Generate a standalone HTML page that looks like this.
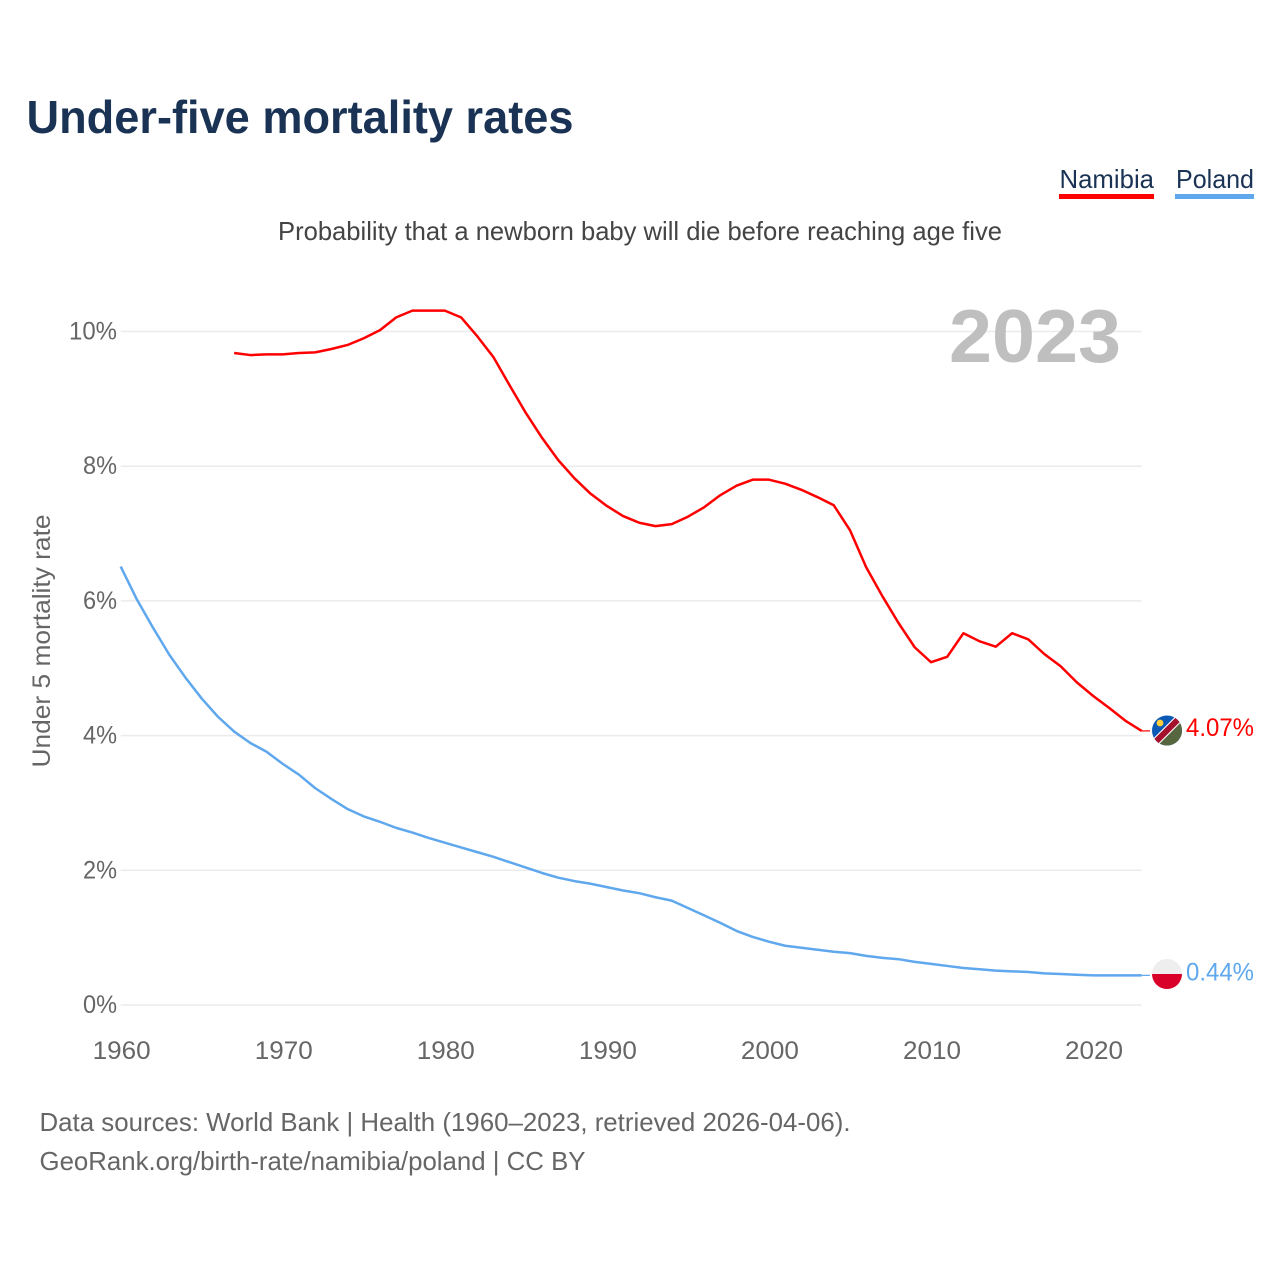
<!DOCTYPE html>
<html lang="en">
<head>
<meta charset="utf-8">
<title>Under-five mortality rates</title>
<style>
html,body{margin:0;padding:0;background:#fff;width:1280px;height:1280px;overflow:hidden}
svg{display:block}
text{font-family:"Liberation Sans",Arial,sans-serif}
</style>
</head>
<body>
<svg id="chart" xmlns="http://www.w3.org/2000/svg" width="1280" height="1280" viewBox="0 0 1280 1280">
  <defs>
    <clipPath id="nam-clip"><circle cx="1167" cy="730.5" r="15"/></clipPath>
    <clipPath id="pol-clip"><circle cx="1167" cy="974" r="15"/></clipPath>
  </defs>
  <rect width="1280" height="1280" fill="#fff"/>
  <text x="26.5" y="133" font-size="46" font-weight="700" fill="#1a3355" textLength="547" lengthAdjust="spacingAndGlyphs">Under-five mortality rates</text>

  <g>
    <text x="1059.5" y="188" font-size="26" fill="#1a3355" textLength="94.5" lengthAdjust="spacingAndGlyphs">Namibia</text>
    <rect x="1059" y="194" width="95" height="5" fill="#ff0000"/>
  </g>
  <g>
    <text x="1176" y="188" font-size="26" fill="#1a3355" textLength="78" lengthAdjust="spacingAndGlyphs">Poland</text>
    <rect x="1175" y="194" width="79" height="5" fill="#5fa8ee"/>
  </g>

  <text x="278" y="240" font-size="26" fill="#444" textLength="724" lengthAdjust="spacingAndGlyphs">Probability that a newborn baby will die before reaching age five</text>

  <g id="grid"></g>
  <text x="949" y="362" font-size="75" font-weight="700" fill="#bfbfbf" textLength="172" lengthAdjust="spacingAndGlyphs">2023</text>
  <g id="yticks"></g>
  <g id="xticks"></g>
  <text transform="translate(50,641) rotate(-90)" text-anchor="middle" font-size="25" fill="#666" textLength="253" lengthAdjust="spacingAndGlyphs">Under 5 mortality rate</text>

  <g id="series"></g>

  <g clip-path="url(#nam-clip)">
    <rect x="1150" y="714" width="34" height="34" fill="#0a5ab5"/>
    <polygon points="1150,747.5 1184,713.5 1184,748 1150,748" fill="#56663f"/>
    <polygon points="1150,741.7 1184,707.7 1184,719.3 1150,753.3" fill="#ffffff"/>
    <polygon points="1150,743.3 1184,709.3 1184,717.7 1150,751.7" fill="#a5102d"/>
    <circle cx="1160" cy="723" r="3.4" fill="#ffce3a"/>
  </g>
  <g clip-path="url(#pol-clip)">
    <rect x="1150" y="958" width="34" height="16" fill="#eeeeee"/>
    <rect x="1150" y="974" width="34" height="16" fill="#d9002a"/>
  </g>

  <text x="39.5" y="1131" font-size="26" fill="#666" textLength="811" lengthAdjust="spacingAndGlyphs">Data sources: World Bank | Health (1960–2023, retrieved 2026-04-06).</text>
  <text x="39.5" y="1170" font-size="26" fill="#666" textLength="546" lengthAdjust="spacingAndGlyphs">GeoRank.org/birth-rate/namibia/poland | CC BY</text>
</svg>
<script>
const xTickYears = [1960, 1970, 1980, 1990, 2000, 2010, 2020];
const yTickValues = [0, 2, 4, 6, 8, 10];
const namibiaStartYear = 1967;
const namibiaValues = [9.68,9.65,9.66,9.66,9.68,9.69,9.74,9.80,9.90,10.02,10.21,10.31,10.31,10.31,10.21,9.93,9.62,9.20,8.79,8.42,8.09,7.82,7.59,7.41,7.26,7.16,7.11,7.14,7.25,7.39,7.57,7.71,7.80,7.80,7.74,7.65,7.54,7.42,7.05,6.50,6.07,5.67,5.31,5.09,5.17,5.52,5.40,5.32,5.52,5.43,5.21,5.03,4.79,4.59,4.41,4.22,4.07];
const polandStartYear = 1960;
const polandValues = [6.51,6.02,5.60,5.20,4.86,4.55,4.28,4.06,3.89,3.76,3.58,3.42,3.22,3.06,2.91,2.80,2.72,2.63,2.56,2.48,2.41,2.34,2.27,2.20,2.12,2.04,1.96,1.89,1.84,1.80,1.75,1.70,1.66,1.60,1.55,1.44,1.33,1.22,1.10,1.01,0.94,0.88,0.85,0.82,0.79,0.77,0.73,0.70,0.68,0.64,0.61,0.58,0.55,0.53,0.51,0.50,0.49,0.47,0.46,0.45,0.44,0.44,0.44,0.44];
const namibiaLabel = "4.07%";
const polandLabel = "0.44%";

const NS = "http://www.w3.org/2000/svg";
const xScale = function (year) { return 120.7 + (year - 1960) * 16.206; };
const yScale = function (value) { return 1005 - value * 67.35; };
const X_END = xScale(2023);

function make(tag, attrs, parent, content) {
  const el = document.createElementNS(NS, tag);
  for (const k in attrs) el.setAttribute(k, attrs[k]);
  if (content !== undefined) el.textContent = content;
  parent.appendChild(el);
  return el;
}

const gridG = document.getElementById("grid");
const yG = document.getElementById("yticks");
yTickValues.forEach(function (v) {
  const line = make("line", { x1: xScale(1960), x2: X_END, y1: yScale(v), y2: yScale(v), stroke: "#ebebeb", "stroke-width": 1.5 }, gridG);
  
  
  const label = make("text", { x: 117, y: yScale(v) + 8, "text-anchor": "end", "font-size": 25, fill: "#666", textLength: v >= 10 ? 48 : 34, lengthAdjust: "spacingAndGlyphs" }, yG, v + "%");
  
  
});

const xG = document.getElementById("xticks");
xTickYears.forEach(function (y) {
  const label = make("text", { x: xScale(y) + 1, y: 1059, "text-anchor": "middle", "font-size": 25, fill: "#666", textLength: 58, lengthAdjust: "spacingAndGlyphs" }, xG, String(y));
  
  
});

const seriesG = document.getElementById("series");
function drawSeries(values, startYear, color, labelText, labelWidth) {
  const pts = values.map(function (v, i) { return xScale(startYear + i).toFixed(2) + "," + yScale(v).toFixed(2); });
  const path = make("polyline", { points: pts.join(" "), fill: "none", stroke: color, "stroke-width": 2.5, "stroke-linejoin": "round" }, seriesG);
  
  
  const last = values[values.length - 1];
  const lineEnd = make("line", { x1: X_END, x2: 1150, y1: yScale(last), y2: yScale(last), stroke: color, "stroke-width": 1.2 }, seriesG);
  
  
  const endLabel = make("text", { x: 1186, y: yScale(last) + 5, "font-size": 25, fill: color, textLength: labelWidth, lengthAdjust: "spacingAndGlyphs" }, seriesG, labelText);
  
  
}
drawSeries(namibiaValues, namibiaStartYear, "#ff0000", namibiaLabel, 68);
drawSeries(polandValues, polandStartYear, "#5fa8ee", polandLabel, 68);
</script>
</body>
</html>
